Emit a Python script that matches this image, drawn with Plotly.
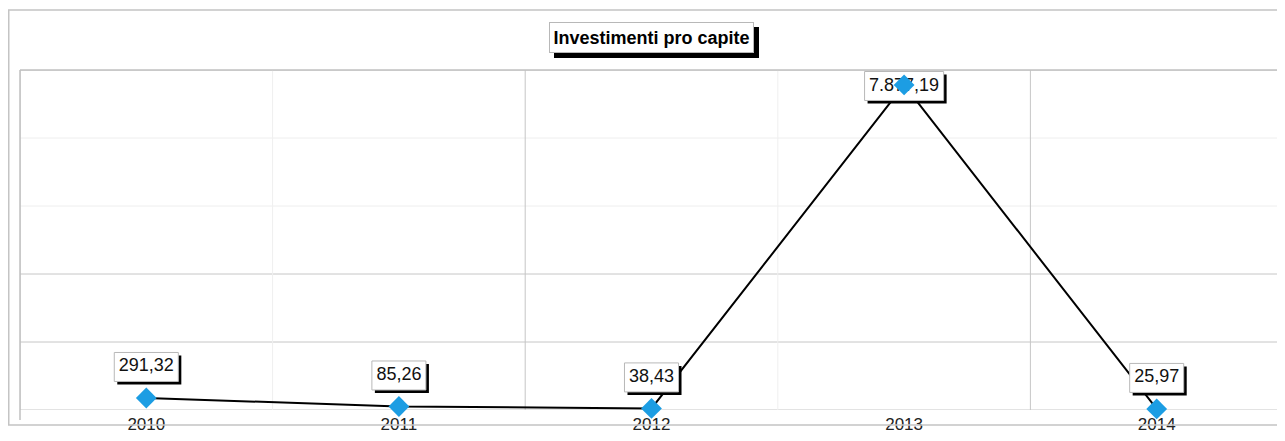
import plotly.graph_objects as go

# ---- data ----
years = ["2010", "2011", "2012", "2013", "2014"]
values = [291.32, 85.26, 38.43, 7877.19, 25.97]
title_text = "Investimenti pro capite"

# ---- styling constants ----
# the page body adds an 8px margin, so the figure is 8px smaller
W, H = 1277, 433
ML, MR, MT, MB = 12, 2, 62, 31
PLOT_H = H - MT - MB
PLOT_W = W - ML - MR
YMAX = 8240
FONT = "Liberation Sans, Arial, sans-serif"
BLUE = "#1C9DE3"


def it_fmt(v):
    s = f"{v:,.2f}"
    return s.replace(",", "X").replace(".", ",").replace("X", ".")


xs = list(range(len(years)))
labels = [it_fmt(v) for v in values]

# label box geometry (pixels)
FS = 18
BOX_H = 29
SH = 3
shifts = [min(31, (YMAX - v) / YMAX * PLOT_H - 16) for v in values]
label_y = [v + s * YMAX / PLOT_H for v, s in zip(values, shifts)]

fig = go.Figure()

# line on the lower subplot
fig.add_trace(go.Scatter(x=xs, y=values, mode="lines",
                         line=dict(color="black", width=2),
                         xaxis="x", yaxis="y", hoverinfo="skip",
                         cliponaxis=False, showlegend=False))
# label texts on the upper subplot (above boxes, below markers)
fig.add_trace(go.Scatter(x=xs, y=label_y, mode="text", text=labels,
                         textposition="middle center",
                         textfont=dict(family=FONT, size=FS, color="#111111"),
                         xaxis="x2", yaxis="y2", hoverinfo="skip",
                         cliponaxis=False, showlegend=False))
# markers on the upper subplot
fig.add_trace(go.Scatter(x=xs, y=values, mode="markers",
                         marker=dict(symbol="diamond", size=16, color=BLUE,
                                     line=dict(width=0)),
                         xaxis="x2", yaxis="y2", cliponaxis=False,
                         showlegend=False))

shapes = []

# gridlines (horizontal): 5 intervals
dark_h = {0, 1, 2, 5}
for k in range(6):
    shapes.append(dict(type="line", xref="paper", yref="y", x0=0, x1=1,
                       y0=YMAX * k / 5, y1=YMAX * k / 5, layer="below",
                       line=dict(color="#c6c6c6" if k in dark_h else "#eeeeee",
                                 width=1)))
# gridlines (vertical) at category boundaries
for k in range(len(years) + 1):
    xb = k - 0.5
    dark = k in (0, 2, 4, 5)
    shapes.append(dict(type="line", xref="x", yref="paper", x0=xb, x1=xb,
                       y0=0, y1=1, layer="below",
                       line=dict(color="#c6c6c6" if dark else "#efefef",
                                 width=1)))
# plot frame
shapes.append(dict(type="line", xref="paper", yref="paper", x0=0, x1=0,
                   y0=-10 / PLOT_H, y1=1, line=dict(color="#c0c0c0", width=1.5)))
shapes.append(dict(type="line", xref="paper", yref="paper", x0=0, x1=1,
                   y0=1, y1=1, line=dict(color="#c0c0c0", width=1.5)))
shapes.append(dict(type="line", xref="paper", yref="paper", x0=1, x1=1,
                   y0=0, y1=1, line=dict(color="#c0c0c0", width=1.5)))
# outer frame
shapes.append(dict(type="rect", xref="paper", yref="paper",
                   x0=(0.75 - ML) / PLOT_W, x1=1.05,
                   y0=-15 / PLOT_H, y1=(PLOT_H + MT - 2) / PLOT_H,
                   line=dict(color="#c4c4c4", width=1.5)))

# data label boxes (upper subplot, beneath its traces)
for xi, v, txt, s in zip(xs, values, labels, shifts):
    nd = sum(c.isdigit() for c in txt)
    npn = len(txt) - nd
    bw = (0.556 * nd + 0.278 * npn) * FS + 9
    y0 = s - BOX_H / 2
    y1 = s + BOX_H / 2
    shapes.append(dict(type="rect", xref="x2", yref="y2", layer="below",
                       xsizemode="pixel", ysizemode="pixel",
                       xanchor=xi, yanchor=v,
                       x0=-bw / 2 + SH, x1=bw / 2 + SH,
                       y0=y0 - SH, y1=y1 - SH,
                       fillcolor="black", line=dict(width=0)))
    shapes.append(dict(type="rect", xref="x2", yref="y2", layer="below",
                       xsizemode="pixel", ysizemode="pixel",
                       xanchor=xi, yanchor=v,
                       x0=-bw / 2, x1=bw / 2, y0=y0, y1=y1,
                       fillcolor="white", line=dict(color="#b8b8b8", width=1)))

# title box with shadow
title_y = 1 + 32.5 / PLOT_H
TW, TH, TSH = 205, 31, 5
shapes.append(dict(type="rect", xref="paper", yref="paper", layer="above",
                   xsizemode="pixel", ysizemode="pixel",
                   xanchor=0.5, yanchor=title_y,
                   x0=-TW / 2 + TSH, x1=TW / 2 + TSH,
                   y0=-TH / 2 - TSH, y1=TH / 2 - TSH,
                   fillcolor="black", line=dict(width=0)))
annotations = [
    dict(text="<b>" + title_text + "</b>", xref="paper", yref="paper",
         x=0.5, y=title_y, xanchor="center", yanchor="middle",
         showarrow=False, width=TW - 8, height=TH - 8, align="center",
         valign="middle",
         font=dict(family=FONT, size=18, color="black"),
         bgcolor="white", bordercolor="#b8b8b8", borderwidth=1, borderpad=3),
]

axis_common = dict(range=[-0.5, len(years) - 0.5], showgrid=False,
                   zeroline=False, showline=False)
fig.update_layout(
    width=W, height=H,
    margin=dict(l=ML, r=MR, t=MT, b=MB),
    paper_bgcolor="white", plot_bgcolor="rgba(0,0,0,0)",
    showlegend=False,
    xaxis=dict(**axis_common, tickmode="array", tickvals=xs, ticktext=years,
               ticks="", ticklabelstandoff=2,
               tickfont=dict(family=FONT, size=17, color="#222222"),
               domain=[0, 1]),
    yaxis=dict(range=[0, YMAX], showgrid=False, zeroline=False,
               showticklabels=False, showline=False, domain=[0, 1]),
    xaxis2=dict(**axis_common, showticklabels=False, domain=[0, 1],
                anchor="y2"),
    yaxis2=dict(range=[0, YMAX], showgrid=False, zeroline=False,
                showticklabels=False, showline=False, domain=[0, 1],
                anchor="x2"),
    shapes=shapes,
    annotations=annotations,
)

fig.write_html("out.html")
